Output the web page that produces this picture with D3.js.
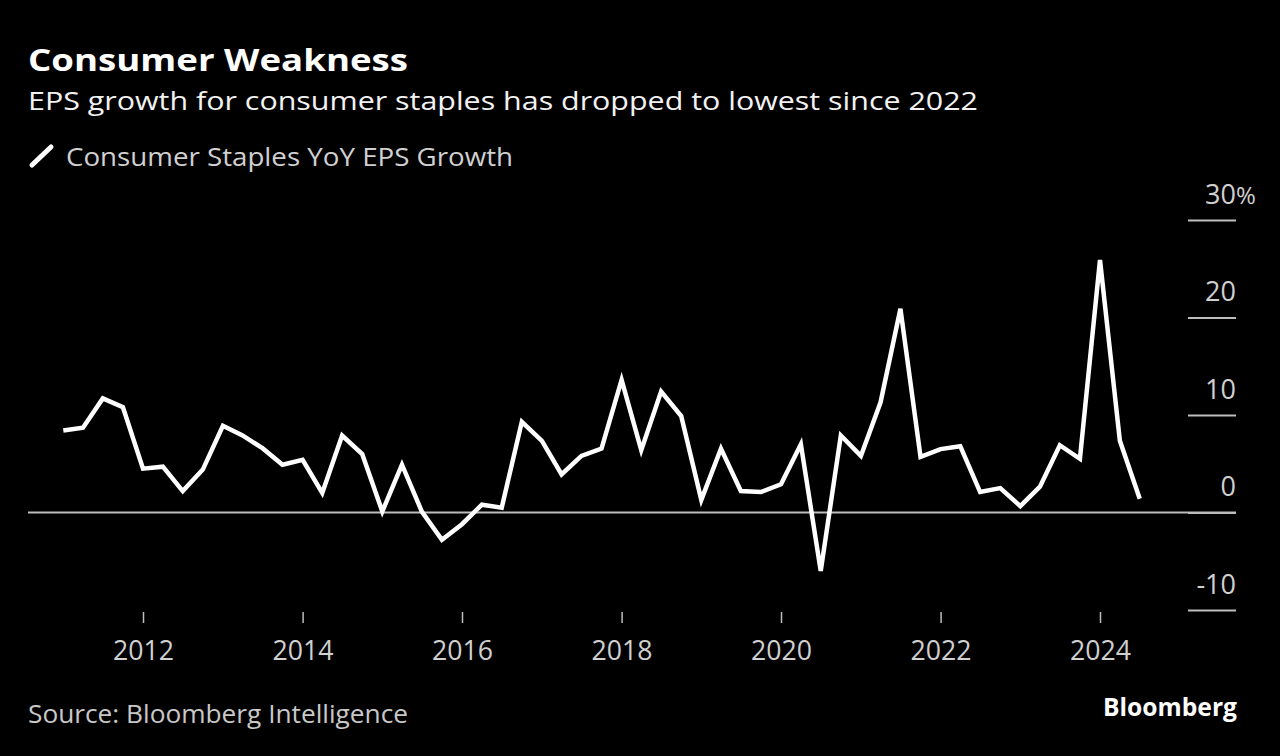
<!DOCTYPE html>
<html>
<head>
<meta charset="utf-8">
<script src="https://cdn.jsdelivr.net/npm/d3@7"></script>
<style>
  html, body { margin: 0; padding: 0; background: #000; }
  svg { display: block; }
</style>
</head>
<body>
<svg id="chart" width="1280" height="756"></svg>
<script>
// ---- data ----
const quarters = [
  "2011-01-01","2011-04-01","2011-07-01","2011-10-01",
  "2012-01-01","2012-04-01","2012-07-01","2012-10-01",
  "2013-01-01","2013-04-01","2013-07-01","2013-10-01",
  "2014-01-01","2014-04-01","2014-07-01","2014-10-01",
  "2015-01-01","2015-04-01","2015-07-01","2015-10-01",
  "2016-01-01","2016-04-01","2016-07-01","2016-10-01",
  "2017-01-01","2017-04-01","2017-07-01","2017-10-01",
  "2018-01-01","2018-04-01","2018-07-01","2018-10-01",
  "2019-01-01","2019-04-01","2019-07-01","2019-10-01",
  "2020-01-01","2020-04-01","2020-07-01","2020-10-01",
  "2021-01-01","2021-04-01","2021-07-01","2021-10-01",
  "2022-01-01","2022-04-01","2022-07-01","2022-10-01",
  "2023-01-01","2023-04-01","2023-07-01","2023-10-01",
  "2024-01-01","2024-04-01","2024-07-01"
];
const epsGrowth = [
  8.4, 8.7, 11.7, 10.8,
  4.5, 4.7, 2.2, 4.4,
  8.9, 7.9, 6.6, 4.9,
  5.4, 2.0, 7.9, 6.0,
  0.1, 4.9, 0.1, -2.8,
  -1.2, 0.8, 0.5, 9.3,
  7.35, 3.9, 5.8, 6.55,
  13.6, 6.4, 12.4, 9.9,
  1.3, 6.55, 2.2, 2.1,
  2.9, 7.0, -6.0, 7.9,
  5.8, 11.3, 20.9, 5.7,
  6.5, 6.8, 2.1, 2.5,
  0.65, 2.65, 6.9, 5.5,
  25.9, 7.35, 1.4
];
const yTicks = [-10, 0, 10, 20, 30];
const xTickYears = [2012, 2014, 2016, 2018, 2020, 2022, 2024];
const title = "Consumer Weakness";
const subtitle = "EPS growth for consumer staples has dropped to lowest since 2022";
const seriesName = "Consumer Staples YoY EPS Growth";
const source = "Source: Bloomberg Intelligence";
const brand = "Bloomberg";

// ---- chart ----
const svg = d3.select("#chart");
const FONT = "'Open Sans', 'DejaVu Sans', sans-serif";
const parse = d3.timeParse("%Y-%m-%d");
const data = quarters.map((q, i) => ({ date: parse(q), value: epsGrowth[i] }));

const x = d3.scaleTime()
  .domain([new Date(2012, 0, 1), new Date(2024, 0, 1)])
  .range([143, 1100]);
const y = d3.scaleLinear().domain([-10, 30]).range([610, 220]);

svg.append("rect").attr("width", 1280).attr("height", 756).attr("fill", "#000");

// Title / subtitle / legend
svg.append("text").text(title)
  .attr("x", 28).attr("y", 71)
  .attr("font-family", FONT).attr("font-weight", 700).attr("font-size", 31)
  .attr("fill", "#fff")
  .attr("textLength", 380).attr("lengthAdjust", "spacingAndGlyphs");

svg.append("text").text(subtitle)
  .attr("x", 28).attr("y", 110)
  .attr("font-family", FONT).attr("font-size", 26)
  .attr("fill", "#f2f2f2")
  .attr("textLength", 950).attr("lengthAdjust", "spacingAndGlyphs");

svg.append("line")
  .attr("x1", 32).attr("y1", 165).attr("x2", 51).attr("y2", 147)
  .attr("stroke", "#fff").attr("stroke-width", 5).attr("stroke-linecap", "round");

svg.append("text").text(seriesName)
  .attr("x", 66).attr("y", 166)
  .attr("font-family", FONT).attr("font-size", 26)
  .attr("fill", "#d0d0d0")
  .attr("textLength", 447).attr("lengthAdjust", "spacingAndGlyphs");

// Y axis (right side, short tick lines with labels above)
const yAxis = d3.axisLeft(y).tickValues(yTicks).tickSize(48).tickFormat(d => d);
const gy = svg.append("g").attr("transform", "translate(1236,0)").call(yAxis);
gy.select(".domain").remove();
gy.selectAll(".tick line").attr("stroke", "#bdbdbd").attr("stroke-width", 2);
gy.selectAll(".tick text")
  .attr("x", 0).attr("y", -17).attr("dy", 0)
  .attr("text-anchor", "end")
  .attr("font-family", FONT).attr("font-size", 27)
  .attr("fill", "#d0d0d0");
gy.selectAll(".tick").filter(d => d === 30).append("text")
  .text("%").attr("x", 0).attr("y", -17)
  .attr("text-anchor", "start")
  .attr("font-family", FONT).attr("font-size", 24)
  .attr("fill", "#d0d0d0");

// zero baseline
svg.append("line")
  .attr("x1", 28).attr("x2", 1236)
  .attr("y1", y(0)).attr("y2", y(0))
  .attr("stroke", "#bdbdbd").attr("stroke-width", 2);

// X axis
const xAxis = d3.axisBottom(x)
  .tickValues(xTickYears.map(yr => new Date(yr, 0, 1)))
  .tickSize(11)
  .tickFormat(d3.timeFormat("%Y"));
const gx = svg.append("g").attr("transform", "translate(0,612)").call(xAxis);
gx.select(".domain").remove();
gx.selectAll(".tick line").attr("stroke", "#bdbdbd").attr("stroke-width", 1.5);
gx.selectAll(".tick text")
  .attr("y", 48).attr("dy", 0)
  .attr("font-family", FONT).attr("font-size", 28)
  .attr("fill", "#d0d0d0")
  .attr("textLength", 61).attr("lengthAdjust", "spacingAndGlyphs");

// Line
const line = d3.line().x(d => x(d.date)).y(d => y(d.value));
svg.append("path").datum(data)
  .attr("d", line)
  .attr("fill", "none")
  .attr("stroke", "#fff")
  .attr("stroke-width", 4.5)
  .attr("stroke-linejoin", "miter")
  .attr("stroke-linecap", "butt");

// Footer
svg.append("text").text(source)
  .attr("x", 28).attr("y", 723)
  .attr("font-family", FONT).attr("font-size", 26)
  .attr("fill", "#c8c8c8")
  .attr("textLength", 380).attr("lengthAdjust", "spacingAndGlyphs");

svg.append("text").text(brand)
  .attr("x", 1237).attr("y", 716)
  .attr("text-anchor", "end")
  .attr("font-family", FONT).attr("font-weight", 700).attr("font-size", 25)
  .attr("fill", "#fff")
  .attr("textLength", 134).attr("lengthAdjust", "spacingAndGlyphs");
</script>
</body>
</html>
